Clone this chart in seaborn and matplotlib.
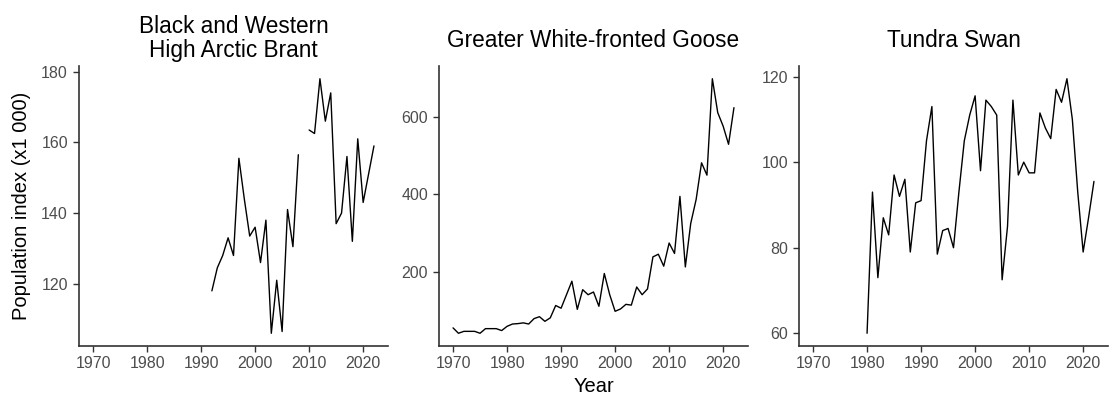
import numpy as np
import pandas as pd
import matplotlib
matplotlib.use("Agg")
import matplotlib.pyplot as plt
import seaborn as sns

# ---------------- data ----------------
brant_years = [1992, 1993, 1994, 1995, 1996, 1997, 1998, 1999, 2000, 2001, 2002, 2003, 2004,
               2005, 2006, 2007, 2008,
               2010, 2011, 2012, 2013, 2014, 2015, 2016, 2017, 2018, 2019, 2020, 2021, 2022]
brant_values = [118, 124.5, 128, 133, 128, 155.5, 144, 133.5, 136, 126, 138, 106, 121,
                106.5, 141, 130.5, 156.5,
                163.5, 162.5, 178, 166, 174, 137, 140, 156, 132, 161, 143, 151, 159]
brant_segment = [1] * 17 + [2] * 13

goose_years = list(range(1970, 2023))
goose_values = [54, 40, 45, 45, 45, 40, 52, 52, 52, 47,
                58, 64, 65, 67, 64, 78, 83, 71, 80, 112,
                105, 140, 175, 102, 153, 140, 147, 110, 195, 140,
                97, 103, 115, 113, 160, 140, 155, 238, 245, 214,
                274, 247, 395, 212, 325, 387, 482, 450, 700, 612,
                577, 530, 625]

swan_years = list(range(1980, 2023))
swan_values = [60, 93, 73, 87, 83, 97, 92, 96, 79, 90.5,
               91, 105, 113, 78.5, 84, 84.5, 80, 93, 105, 111,
               115.5, 98, 114.5, 113, 111, 72.5, 85, 114.5, 97, 100,
               97.5, 97.5, 111.5, 108, 105.5, 117, 114, 119.5, 110, 93,
               79, 87, 95.5]

titles = [["Black and Western", "High Arctic Brant"],
          ["Greater White-fronted Goose"],
          ["Tundra Swan"]]
yticks = [[120, 140, 160, 180], [200, 400, 600], [60, 80, 100, 120]]
xticks = [1970, 1980, 1990, 2000, 2010, 2020]
ylabel = "Population index (x1 000)"
xlabel = "Year"

# ---------------- style ----------------
sns.set_theme(style="ticks")
plt.rcParams["font.family"] = ["Liberation Sans", "DejaVu Sans"]

W, H = 1110, 401
fig = plt.figure(figsize=(W / 100, H / 100), dpi=100)

panel_left = [79, 439, 799]
panel_w = 309
top_px, bottom_px = 66, 346

frames = [
    pd.DataFrame({"year": brant_years, "value": brant_values, "seg": brant_segment}),
    pd.DataFrame({"year": goose_years, "value": goose_values, "seg": 1}),
    pd.DataFrame({"year": swan_years, "value": swan_values, "seg": 1}),
]

tick_color = "#4D4D4D"
for i, df in enumerate(frames):
    ax = fig.add_axes([panel_left[i] / W, 1 - bottom_px / H,
                       panel_w / W, (bottom_px - top_px) / H])
    sns.lineplot(data=df, x="year", y="value", units="seg", estimator=None,
                 color="black", linewidth=1.0, ax=ax)
    ax.set_xlim(1967.4, 2024.6)
    ax.margins(y=0.05)
    ax.set_xticks(xticks)
    ax.set_yticks(yticks[i])
    ax.set_xlabel("")
    ax.set_ylabel("")
    ax.tick_params(axis="both", colors="#333333", labelcolor=tick_color,
                   labelsize=11.5, length=4, width=1.0)
    ax.tick_params(axis="x", pad=3.5)
    ax.tick_params(axis="y", pad=4)
    for s in ["top", "right"]:
        ax.spines[s].set_visible(False)
    for s in ["left", "bottom"]:
        ax.spines[s].set_color("#333333")
        ax.spines[s].set_linewidth(1.2)
    ax.set_facecolor("white")

    cx = (panel_left[i] + panel_w / 2) / W
    if len(titles[i]) == 2:
        fig.text(cx, 1 - 33 / H, titles[i][0], ha="center", va="baseline",
                 fontsize=16.3, color="black")
        fig.text(cx, 1 - 57 / H, titles[i][1], ha="center", va="baseline",
                 fontsize=16.3, color="black")
    else:
        fig.text(cx, 1 - 47 / H, titles[i][0], ha="center", va="baseline",
                 fontsize=16.3, color="black")

fig.text(22 / W, 1 - 206 / H, ylabel, rotation=90, ha="center", va="center",
         fontsize=14.5, color="black")
fig.text(594 / W, 1 - 392 / H, xlabel, ha="center", va="baseline",
         fontsize=14.5, color="black")

fig.savefig("out.png", dpi=100, facecolor="white")
